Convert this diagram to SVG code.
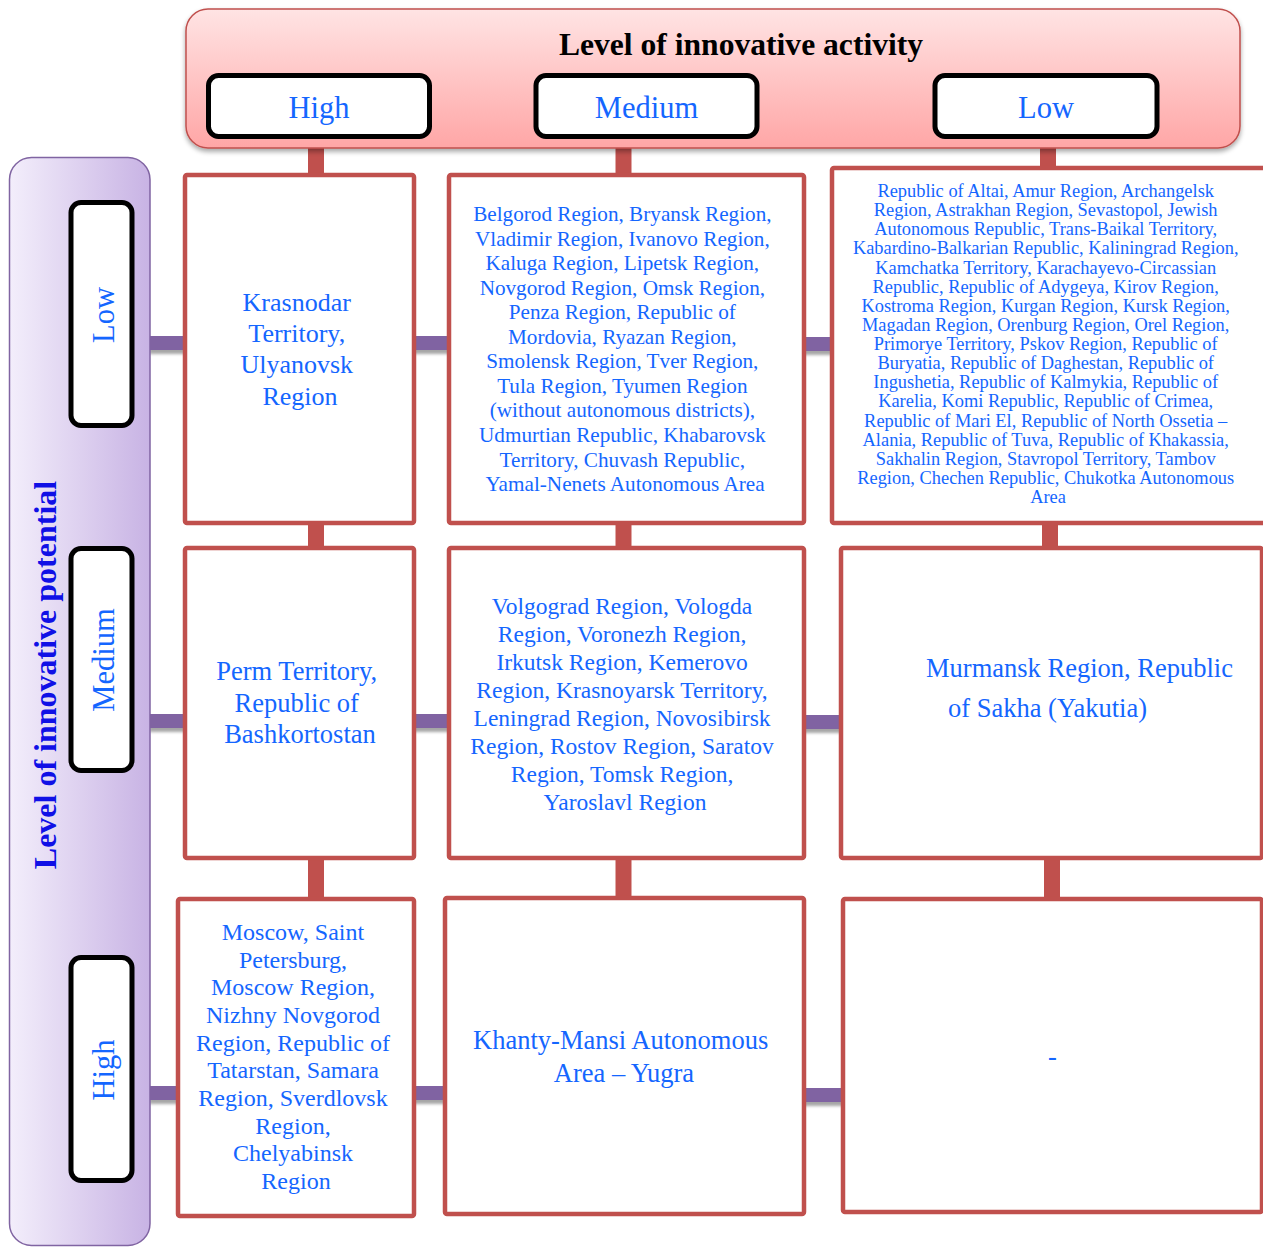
<svg xmlns="http://www.w3.org/2000/svg" width="1263" height="1247" viewBox="0 0 1263 1247">
<defs>
<linearGradient id="gHead" x1="0" y1="0" x2="0" y2="1">
<stop offset="0" stop-color="#ffe4e4"/>
<stop offset="1" stop-color="#ffa6a6"/>
</linearGradient>
<linearGradient id="gLeft" x1="0" y1="0" x2="1" y2="0">
<stop offset="0" stop-color="#f3eefb"/>
<stop offset="1" stop-color="#c8b3e4"/>
</linearGradient>
<filter id="sh" x="-5%" y="-5%" width="110%" height="115%">
<feGaussianBlur in="SourceAlpha" stdDeviation="2.5"/>
<feOffset dx="0" dy="3" result="b"/>
<feComponentTransfer><feFuncA type="linear" slope="0.35"/></feComponentTransfer>
<feMerge><feMergeNode/><feMergeNode in="SourceGraphic"/></feMerge>
</filter>
<filter id="shBar" x="-20%" y="-50%" width="140%" height="250%">
<feGaussianBlur in="SourceAlpha" stdDeviation="1.5"/>
<feOffset dx="0" dy="4" result="b"/>
<feComponentTransfer><feFuncA type="linear" slope="0.35"/></feComponentTransfer>
<feMerge><feMergeNode/><feMergeNode in="SourceGraphic"/></feMerge>
</filter>
</defs>
<style>
.cell{fill:#ffffff;stroke:#c0504d;stroke-width:4.5}
.lab{fill:#ffffff;stroke:#000000;stroke-width:5}
.red{stroke:#c0504d;stroke-width:16}
.pur{stroke:#8064a2;stroke-width:14}
.t{font-family:"Liberation Serif","Times New Roman",serif;fill:#1466ff;text-anchor:middle}
.lt{font-family:"Liberation Serif","Times New Roman",serif;fill:#1466ff;font-size:30.5px;text-anchor:middle}
.ttl{font-family:"Liberation Serif","Times New Roman",serif;font-weight:bold;font-size:31.6px;text-anchor:middle}
</style>
<rect width="1263" height="1247" fill="#ffffff"/>

<g id="connectors">
<line class="red" x1="316" y1="146" x2="316" y2="176"/>
<line class="red" x1="623.5" y1="146" x2="623.5" y2="176"/>
<line class="red" x1="1048" y1="146" x2="1048" y2="169"/>
<line class="red" x1="316" y1="522" x2="316" y2="549"/>
<line class="red" x1="623.5" y1="522" x2="623.5" y2="549"/>
<line class="red" x1="1050" y1="522" x2="1050" y2="549"/>
<line class="red" x1="316" y1="857" x2="316" y2="900"/>
<line class="red" x1="623.5" y1="857" x2="623.5" y2="899"/>
<line class="red" x1="1052" y1="857" x2="1052" y2="900"/>
<g filter="url(#shBar)">
<line class="pur" x1="149" y1="343" x2="185" y2="343"/>
<line class="pur" x1="414" y1="343" x2="449" y2="343"/>
<line class="pur" x1="804" y1="344" x2="832" y2="344"/>
<line class="pur" x1="149" y1="721" x2="185" y2="721"/>
<line class="pur" x1="414" y1="721" x2="449" y2="721"/>
<line class="pur" x1="804" y1="722" x2="841" y2="722"/>
<line class="pur" x1="149" y1="1093" x2="178" y2="1093"/>
<line class="pur" x1="414" y1="1093" x2="445" y2="1093"/>
<line class="pur" x1="804" y1="1095" x2="843" y2="1095"/>
</g>
</g>

<g id="header">
<rect x="186" y="9" width="1054" height="139" rx="22" fill="url(#gHead)" stroke="#c0504d" stroke-width="1.5" filter="url(#sh)"/>
<text class="ttl" x="741" y="55" fill="#000000">Level of innovative activity</text>
</g>
<g id="act-high">
<rect class="lab" x="208.5" y="75.5" width="221" height="61" rx="10"/>
<text class="lt" x="319" y="118">High</text>
</g>
<g id="act-medium">
<rect class="lab" x="536" y="75.5" width="221" height="61" rx="10"/>
<text class="lt" x="646.5" y="118">Medium</text>
</g>
<g id="act-low">
<rect class="lab" x="935" y="75.5" width="222" height="61" rx="10"/>
<text class="lt" x="1046" y="118">Low</text>
</g>

<g id="potential">
<rect x="9.5" y="157.5" width="140.5" height="1088" rx="22" fill="url(#gLeft)" stroke="#8064a2" stroke-width="1.5"/>
<text class="ttl" transform="translate(56,675) rotate(-90)" fill="#1010e6" style="font-size:32px">Level of innovative potential</text>
</g>
<g id="pot-low">
<rect class="lab" x="71" y="202.5" width="61" height="223" rx="10"/>
<text class="lt" transform="translate(114,315) rotate(-90)">Low</text>
</g>
<g id="pot-medium">
<rect class="lab" x="71" y="548.5" width="61" height="222" rx="10"/>
<text class="lt" transform="translate(114,660) rotate(-90)">Medium</text>
</g>
<g id="pot-high">
<rect class="lab" x="71" y="957.5" width="61" height="223" rx="10"/>
<text class="lt" transform="translate(114,1070) rotate(-90)">High</text>
</g>

<g id="cell-low-high">
<rect class="cell" x="185" y="175" width="229" height="348" rx="2"/>
<text class="t" style="font-size:26px">
<tspan x="300" y="311">Krasnodar</tspan>
<tspan x="300" y="342">Territory,</tspan>
<tspan x="300" y="373">Ulyanovsk</tspan>
<tspan x="300" y="405">Region</tspan>
</text>
</g>
<g id="cell-low-medium">
<rect class="cell" x="449" y="175" width="355" height="348" rx="2"/>
<text class="t" style="font-size:21.2px">
<tspan x="625" y="221">Belgorod Region, Bryansk Region,</tspan>
<tspan x="625" y="245.5">Vladimir Region, Ivanovo Region,</tspan>
<tspan x="625" y="270">Kaluga Region, Lipetsk Region,</tspan>
<tspan x="625" y="294.6">Novgorod Region, Omsk Region,</tspan>
<tspan x="625" y="319.2">Penza Region, Republic of</tspan>
<tspan x="625" y="343.7">Mordovia, Ryazan Region,</tspan>
<tspan x="625" y="368.3">Smolensk Region, Tver Region,</tspan>
<tspan x="625" y="392.8">Tula Region, Tyumen Region</tspan>
<tspan x="625" y="417.4">(without autonomous districts),</tspan>
<tspan x="625" y="442">Udmurtian Republic, Khabarovsk</tspan>
<tspan x="625" y="466.5">Territory, Chuvash Republic,</tspan>
<tspan x="625" y="491">Yamal-Nenets Autonomous Area</tspan>
</text>
</g>
<g id="cell-low-low">
<rect class="cell" x="832" y="168" width="440" height="355" rx="2"/>
<text class="t" style="font-size:18.4px">
<tspan x="1048" y="197">Republic of Altai, Amur Region, Archangelsk</tspan>
<tspan x="1048" y="216.1">Region, Astrakhan Region, Sevastopol, Jewish</tspan>
<tspan x="1048" y="235.3">Autonomous Republic, Trans-Baikal Territory,</tspan>
<tspan x="1048" y="254.4">Kabardino-Balkarian Republic, Kaliningrad Region,</tspan>
<tspan x="1048" y="273.5">Kamchatka Territory, Karachayevo-Circassian</tspan>
<tspan x="1048" y="292.6">Republic, Republic of Adygeya, Kirov Region,</tspan>
<tspan x="1048" y="311.8">Kostroma Region, Kurgan Region, Kursk Region,</tspan>
<tspan x="1048" y="330.9">Magadan Region, Orenburg Region, Orel Region,</tspan>
<tspan x="1048" y="350">Primorye Territory, Pskov Region, Republic of</tspan>
<tspan x="1048" y="369.1">Buryatia, Republic of Daghestan, Republic of</tspan>
<tspan x="1048" y="388.3">Ingushetia, Republic of Kalmykia, Republic of</tspan>
<tspan x="1048" y="407.4">Karelia, Komi Republic, Republic of Crimea,</tspan>
<tspan x="1048" y="426.5">Republic of Mari El, Republic of North Ossetia –</tspan>
<tspan x="1048" y="445.6">Alania, Republic of Tuva, Republic of Khakassia,</tspan>
<tspan x="1048" y="464.8">Sakhalin Region, Stavropol Territory, Tambov</tspan>
<tspan x="1048" y="483.9">Region, Chechen Republic, Chukotka Autonomous</tspan>
<tspan x="1048" y="503">Area</tspan>
</text>
</g>

<g id="cell-medium-high">
<rect class="cell" x="185" y="548" width="229" height="310" rx="2"/>
<text class="t" style="font-size:26.5px">
<tspan x="300" y="680">Perm Territory,</tspan>
<tspan x="300" y="712">Republic of</tspan>
<tspan x="300" y="743">Bashkortostan</tspan>
</text>
</g>
<g id="cell-medium-medium">
<rect class="cell" x="449" y="548" width="355" height="310" rx="2"/>
<text class="t" style="font-size:23.5px">
<tspan x="625" y="614">Volgograd Region, Vologda</tspan>
<tspan x="625" y="642">Region, Voronezh Region,</tspan>
<tspan x="625" y="670">Irkutsk Region, Kemerovo</tspan>
<tspan x="625" y="698">Region, Krasnoyarsk Territory,</tspan>
<tspan x="625" y="726">Leningrad Region, Novosibirsk</tspan>
<tspan x="625" y="754">Region, Rostov Region, Saratov</tspan>
<tspan x="625" y="782">Region, Tomsk Region,</tspan>
<tspan x="625" y="810">Yaroslavl Region</tspan>
</text>
</g>
<g id="cell-medium-low">
<rect class="cell" x="841" y="548" width="421" height="310" rx="2"/>
<text class="t" style="font-size:26.5px;text-anchor:start">
<tspan x="926" y="677">Murmansk Region, Republic</tspan>
<tspan x="948" y="717">of Sakha (Yakutia)</tspan>
</text>
</g>

<g id="cell-high-high">
<rect class="cell" x="178" y="899" width="236" height="317" rx="2"/>
<text class="t" style="font-size:24px">
<tspan x="296" y="940">Moscow, Saint</tspan>
<tspan x="296" y="967.7">Petersburg,</tspan>
<tspan x="296" y="995.3">Moscow Region,</tspan>
<tspan x="296" y="1023">Nizhny Novgorod</tspan>
<tspan x="296" y="1050.7">Region, Republic of</tspan>
<tspan x="296" y="1078.3">Tatarstan, Samara</tspan>
<tspan x="296" y="1106">Region, Sverdlovsk</tspan>
<tspan x="296" y="1133.7">Region,</tspan>
<tspan x="296" y="1161.3">Chelyabinsk</tspan>
<tspan x="296" y="1189">Region</tspan>
</text>
</g>
<g id="cell-high-medium">
<rect class="cell" x="445" y="898" width="359" height="316" rx="2"/>
<text class="t" style="font-size:26.5px">
<tspan x="624" y="1049">Khanty-Mansi Autonomous</tspan>
<tspan x="624" y="1082">Area – Yugra</tspan>
</text>
</g>
<g id="cell-high-low">
<rect class="cell" x="843" y="899" width="419" height="313" rx="2"/>
<text class="t" style="font-size:26.5px" x="1052.5" y="1065">-</text>
</g>
</svg>
